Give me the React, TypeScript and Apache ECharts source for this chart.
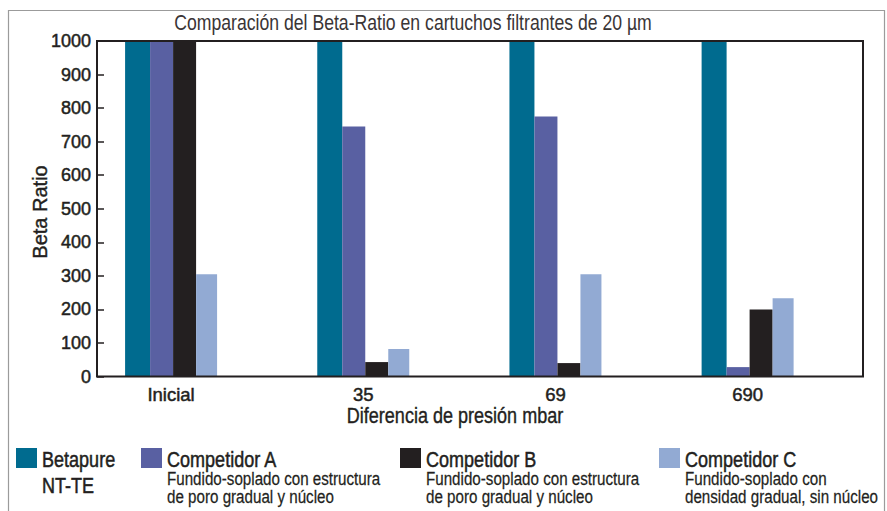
import React, { useEffect, useRef } from "react";
import * as echarts from "echarts";

const FONT = "'Liberation Sans', Arial, sans-serif";
const INK = "#231f20";
const NARROW = 0.82;

const titleText = "Comparación del Beta-Ratio en cartuchos filtrantes de 20 µm";
const xAxisTitle = "Diferencia de presión mbar";
const yAxisTitle = "Beta Ratio";
const categories = ["Inicial", "35", "69", "690"];
const seriesNames = ["Betapure NT-TE", "Competidor A", "Competidor B", "Competidor C"];
const seriesColors = ["#006b8f", "#5960a2", "#231f20", "#92aad3"];
const betapure = [1000, 1000, 1000, 1000];
const competidorA = [1000, 745, 775, 28];
const competidorB = [1000, 43, 40, 200];
const competidorC = [305, 82, 305, 233];
const legendMain = [["Betapure", "NT-TE"], ["Competidor A"], ["Competidor B"], ["Competidor C"]];
const legendSub = [
  [],
  ["Fundido-soplado con estructura", "de poro gradual y núcleo"],
  ["Fundido-soplado con estructura", "de poro gradual y núcleo"],
  ["Fundido-soplado con", "densidad gradual, sin núcleo"],
];
const yMin = 0;
const yMax = 1000;
const yInterval = 100;

export default function App() {
  const ref = useRef<HTMLDivElement>(null);
  useEffect(() => {
    if (!ref.current) return;
    const chart = echarts.init(ref.current, null, { renderer: "svg" });
    const values = [betapure, competidorA, competidorB, competidorC];
    const widths = [25, 23, 23, 21];
    const legendX = [16, 141, 400, 659];
    const legendW = [21, 21, 21, 21];

    const graphics: any[] = [
      {
        type: "rect",
        shape: { x: 8.5, y: 10.5, width: 876, height: 520 },
        style: { fill: "none", stroke: "#9b9b9b", lineWidth: 1.2 },
        silent: true,
        z: 0,
      },
      {
        type: "rect",
        shape: { x: 97, y: 41, width: 766, height: 335.5 },
        style: { fill: "none", stroke: INK, lineWidth: 2 },
        silent: true,
        z: 100,
      },
      {
        type: "text",
        x: 413,
        y: 22,
        scaleX: NARROW,
        style: { text: titleText, font: `21.5px ${FONT}`, fill: "#3a3536", textAlign: "center", textVerticalAlign: "middle" },
      },
      {
        type: "text",
        x: 455,
        y: 415,
        scaleX: NARROW,
        style: { text: xAxisTitle, font: `22px ${FONT}`, fill: INK, stroke: INK, lineWidth: 0.4, textAlign: "center", textVerticalAlign: "middle" },
      },
      {
        type: "text",
        x: 40,
        y: 212,
        rotation: Math.PI / 2,
        style: { text: yAxisTitle, font: `20px ${FONT}`, fill: INK, stroke: INK, lineWidth: 0.4, textAlign: "center", textVerticalAlign: "middle" },
      },
    ];
    seriesNames.forEach((_, i) => {
      graphics.push({
        type: "rect",
        shape: { x: legendX[i], y: 448, width: legendW[i], height: 20 },
        style: { fill: seriesColors[i] },
      });
      const tx = legendX[i] + legendW[i] + 5;
      legendMain[i].forEach((t, j) => {
        graphics.push({
          type: "text",
          x: tx,
          y: 459 + j * 26,
          scaleX: NARROW,
          style: { text: t, font: `22px ${FONT}`, fill: INK, stroke: INK, lineWidth: 0.5, textVerticalAlign: "middle" },
        });
      });
      legendSub[i].forEach((t, j) => {
        graphics.push({
          type: "text",
          x: tx,
          y: 479 + j * 18,
          scaleX: NARROW,
          style: { text: t, font: `18.5px ${FONT}`, fill: INK, stroke: INK, lineWidth: 0.25, textVerticalAlign: "middle" },
        });
      });
    });

    chart.setOption({
      animation: false,
      backgroundColor: "#ffffff",
      grid: [
        { left: 97, top: 41, width: 766, height: 335.5 },
        { left: 75, top: 41, width: 768.7, height: 335.5 },
      ],
      xAxis: [
        { gridIndex: 0, type: "category", data: categories, show: false },
        {
          gridIndex: 1,
          type: "category",
          data: categories,
          axisLine: { show: false },
          axisTick: { show: false },
          axisLabel: { fontFamily: FONT, fontSize: 18.5, color: INK, textBorderColor: INK, textBorderWidth: 0.5, margin: 8 },
        },
      ],
      yAxis: [
        {
          gridIndex: 0,
          type: "value",
          min: yMin,
          max: yMax,
          interval: yInterval,
          axisLine: { show: false },
          axisTick: { show: true, inside: true, length: 7, lineStyle: { color: INK, width: 1.5 } },
          axisLabel: { fontFamily: FONT, fontSize: 18, color: INK, textBorderColor: INK, textBorderWidth: 0.5, margin: 6, formatter: (v: number) => String(v) },
          splitLine: { show: false },
        },
        { gridIndex: 1, type: "value", min: yMin, max: yMax, interval: yInterval, show: false, splitLine: { show: false } },
      ],
      series: seriesNames.map((name, i) => ({
        name,
        type: "bar",
        xAxisIndex: 1,
        yAxisIndex: 1,
        data: values[i],
        barWidth: widths[i],
        barGap: "0%",
        itemStyle: { color: seriesColors[i] },
      })),
      graphic: graphics,
    });
    return () => chart.dispose();
  }, []);
  return <div ref={ref} style={{ position: "fixed", left: 0, top: 0, width: 887, height: 511 }} />;
}
